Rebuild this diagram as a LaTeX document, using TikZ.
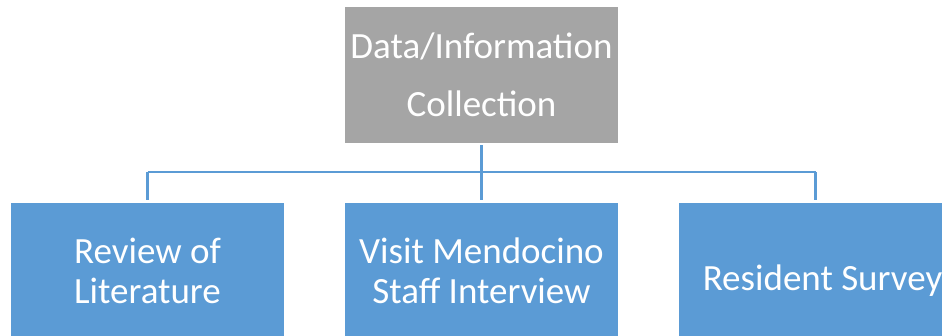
\documentclass[tikz,border=0pt]{standalone}
\usepackage{fontspec}
\setmainfont{Carlito}
\usepackage{xcolor}
\usepackage{tikz}
\definecolor{boxgray}{HTML}{A5A5A5}
\definecolor{boxblue}{HTML}{5B9BD5}

\begin{document}
\begin{tikzpicture}[x=1pt, y=-1pt,
    box/.style={minimum width=273pt, minimum height=136pt, inner sep=0pt, text=white, align=center, font=\fontsize{37}{40}\selectfont},
    link/.style={draw=boxblue, line width=2.4pt, shorten >=3pt}]
      \useasboundingbox (0,0) rectangle (942,335);

      % Top box
      \node[box, fill=boxgray, font=\fontsize{37}{58}\selectfont] (collect) at (481.5,75) {Data/Information\\Collection};

      % Bottom row
      \node[box, fill=boxblue] (review) at (147.5,271) {Review of\\Literature};
      \node[box, fill=boxblue] (visit) at (481.5,271) {Visit Mendocino\\Staff Interview};
      \node[box, fill=boxblue, text height=45pt, text depth=7pt] (survey) at (815.5,271) {\hspace*{14pt}Resident Survey};

      % Connectors
      \coordinate (bus) at (0,172);
      \draw[link, shorten <=2pt] (collect.south) -- (collect.south |- visit.north);
      \draw[link, shorten >=0pt] (review.north |- bus) -- (survey.north |- bus);
      \draw[link] (review.north |- bus) -- (review.north);
      \draw[link] (survey.north |- bus) -- (survey.north);
    \end{tikzpicture}
\end{document}
